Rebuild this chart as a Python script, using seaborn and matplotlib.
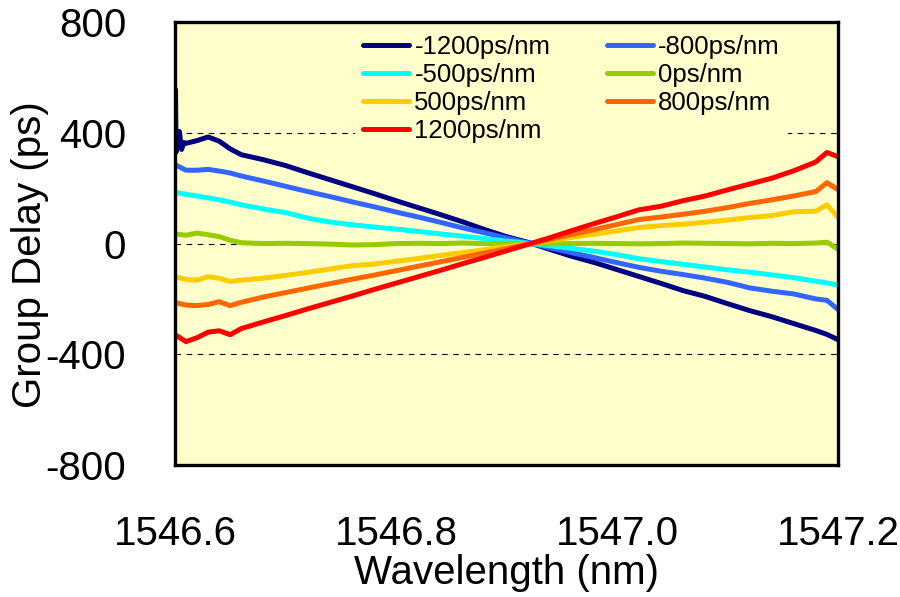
import matplotlib
matplotlib.use("Agg")
import matplotlib.pyplot as plt
import seaborn as sns
import pandas as pd

# wavelength grid (nm)
wl = [1546.60, 1546.61, 1546.62, 1546.63, 1546.64, 1546.65, 1546.66,
      1546.68, 1546.70, 1546.72, 1546.74, 1546.76, 1546.78, 1546.80,
      1546.82, 1546.84, 1546.86, 1546.88, 1546.90, 1546.92, 1546.94,
      1546.96, 1546.98, 1547.00, 1547.02, 1547.04, 1547.06, 1547.08,
      1547.10, 1547.12, 1547.14, 1547.16, 1547.18, 1547.19, 1547.20]

# -1200 ps/nm has a noisy start, so it gets a few more points there
wl_n1200 = [1546.600, 1546.6005, 1546.601, 1546.602, 1546.604, 1546.606,
            1546.608] + wl[1:]

gd_n1200 = [380, 556, 330, 360, 405, 340, 365,
            362, 372, 385, 370, 342, 321, 303, 282, 256, 231, 206, 181,
            155, 130, 105, 79, 51, 25, 4, -22, -47, -69, -94, -119, -144,
            -170, -191, -217, -242, -264, -289, -314, -328, -347]
gd_n800 = [285, 265, 265, 268, 262, 255, 244, 226, 207, 188, 170, 151, 133,
           114, 96, 77, 57, 39, 20, 2, -16, -34, -51, -69, -86, -100, -112,
           -125, -140, -160, -172, -182, -200, -205, -238]
gd_n500 = [185, 178, 172, 165, 158, 150, 140, 125, 112, 92, 78, 68, 60, 52,
           44, 35, 27, 18, 9, 1, -8, -18, -28, -40, -55, -65, -75, -85, -95,
           -103, -113, -123, -136, -142, -150]
gd_0 = [35, 30, 38, 32, 25, 12, 3, 0, 1, 0, -2, -5, -4, 0, 1, 0, 2, 0, 1,
        0, -1, 0, 1, 0, -1, 0, 2, 1, 0, -1, 1, 0, 2, 5, -20]
gd_p500 = [-119, -130, -132, -120, -125, -137, -132, -125, -115, -104, -92,
           -80, -74, -64, -54, -43, -33, -22, -11, -1, 11, 23, 34, 46, 58,
           65, 70, 77, 85, 94, 101, 115, 117, 140, 95]
gd_p800 = [-213, -222, -224, -220, -210, -224, -212, -193, -177, -161, -145,
           -129, -114, -98, -82, -66, -50, -34, -18, -2, 16, 34, 51, 69, 87,
           96, 106, 117, 130, 145, 158, 172, 188, 220, 195]
gd_p1200 = [-329, -354, -340, -320, -315, -329, -307, -283, -260, -236, -213,
            -190, -166, -143, -120, -97, -73, -50, -26, -2, 22, 48, 73, 97,
            122, 135, 155, 172, 194, 215, 236, 263, 295, 329, 314]

labels = ["-1200ps/nm", "-800ps/nm", "-500ps/nm", "0ps/nm",
          "500ps/nm", "800ps/nm", "1200ps/nm"]
colors = ["#000080", "#3366FF", "#00FFFF", "#99CC00",
          "#FFCC00", "#FF6600", "#FF0000"]

series = [(wl_n1200, gd_n1200), (wl, gd_n800), (wl, gd_n500), (wl, gd_0),
          (wl, gd_p500), (wl, gd_p800), (wl, gd_p1200)]
frames = []
for lab, (x, y) in zip(labels, series):
    frames.append(pd.DataFrame({"wl": x, "gd": y, "disp": lab}))
df = pd.concat(frames, ignore_index=True)

sns.set_style("white")
plt.rcParams["font.family"] = ["Liberation Sans", "DejaVu Sans"]
plt.rcParams["axes.unicode_minus"] = False
plt.rcParams["text.color"] = "black"
plt.rcParams["axes.labelcolor"] = "black"
plt.rcParams["xtick.color"] = "black"
plt.rcParams["ytick.color"] = "black"

fig = plt.figure(figsize=(9, 5.97), dpi=100)
ax = fig.add_axes([0.1944, 0.221, 0.7367, 0.742])
ax.set_facecolor("#FFFFCC")
ax.set_axisbelow(True)

sns.lineplot(data=df, x="wl", y="gd", hue="disp", hue_order=labels,
             palette=colors, linewidth=3.6, sort=False, ax=ax)

ax.set_xlim(1546.6, 1547.2)
ax.set_ylim(-800, 800)
ax.set_xticks([1546.6, 1546.8, 1547.0, 1547.2])
ax.set_xticklabels(["1546.6", "1546.8", "1547.0", "1547.2"])
ax.set_yticks([-800, -400, 0, 400, 800])
ax.tick_params(axis="both", length=0, labelsize=29)
ax.tick_params(axis="x", pad=36)
ax.tick_params(axis="y", pad=35)
ax.yaxis.grid(True, linestyle=(0, (5, 5)), color="black", linewidth=0.8)
ax.xaxis.grid(False)
for s in ax.spines.values():
    s.set_visible(True)
    s.set_color("black")
    s.set_linewidth(2.4)

ax.set_xlabel("Wavelength (nm)", fontsize=29)
ax.set_ylabel("Group Delay (ps)", fontsize=29)
ax.xaxis.set_label_coords(0.5, -0.2)
ax.yaxis.set_label_coords(-0.19, 0.474)

# legend is filled row by row in the reference
handles, labs = ax.get_legend_handles_labels()
order = [0, 2, 4, 6, 1, 3, 5]
leg = ax.legend([handles[i] for i in order], [labs[i] for i in order],
                loc="upper left", bbox_to_anchor=(0.272, 0.988), ncol=2,
                fontsize=18.5, frameon=True, facecolor="#FFFFCC",
                edgecolor="none", framealpha=1, handlelength=1.8,
                handletextpad=0.2, columnspacing=2.2, labelspacing=0.16,
                borderpad=0.3, borderaxespad=0)
for h in leg.get_lines():
    h.set_linewidth(3.6)

fig.savefig("out.png", dpi=100)
